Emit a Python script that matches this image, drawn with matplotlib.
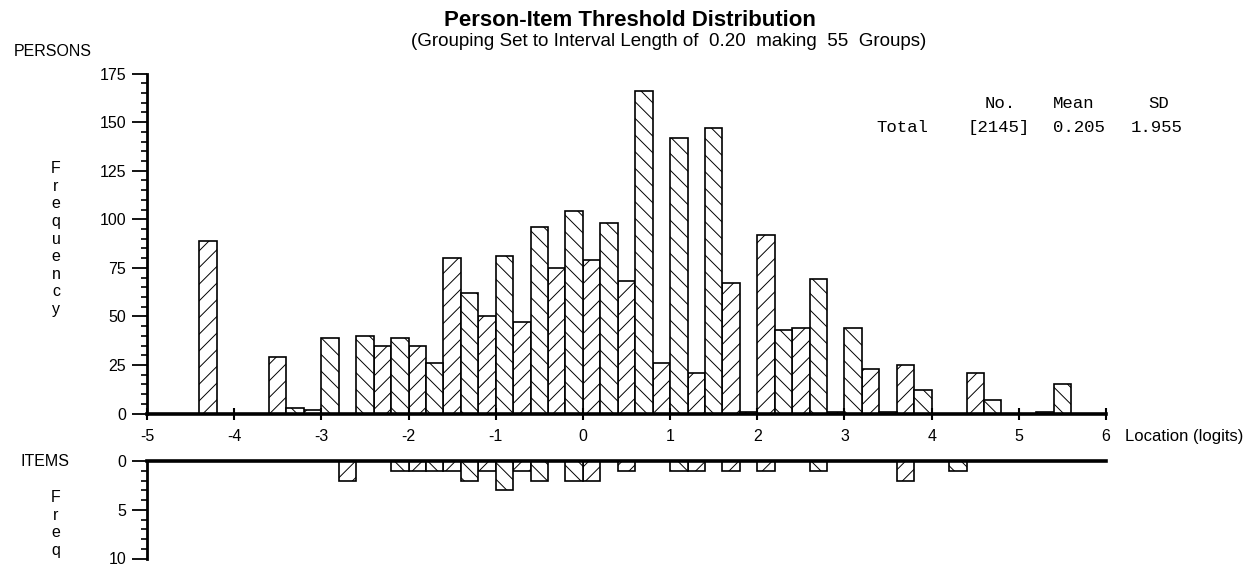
import matplotlib.pyplot as plt
import numpy as np

# 55 groups of 0.20 logits from -5 to 6
bin_left = np.round(np.arange(-5.0, 6.0, 0.2), 1)
persons = [0, 0, 0, 89, 0, 0, 0, 29, 3, 2,
           39, 0, 40, 35, 39, 35, 26, 80, 62, 50,
           81, 47, 96, 75, 104, 79, 98, 68, 166, 26,
           142, 21, 147, 67, 1, 92, 43, 44, 69, 1,
           44, 23, 1, 25, 12, 0, 0, 21, 7, 0,
           0, 1, 15, 0, 0]
items = [0, 0, 0, 0, 0, 0, 0, 0, 0, 0,
         0, 2, 0, 0, 1, 1, 1, 1, 2, 1,
         3, 1, 2, 0, 2, 2, 0, 1, 0, 0,
         1, 1, 0, 1, 0, 1, 0, 0, 1, 0,
         0, 0, 0, 2, 0, 0, 1, 0, 0, 0,
         0, 0, 0, 0, 0]
x_ticks = list(range(-5, 7))
stat_heads = ["No.", "Mean", "SD"]
stat_vals = ["[2145]", "0.205", "1.955"]

W, H = 1260, 569
plt.rcParams['font.family'] = ['Liberation Sans', 'DejaVu Sans']
plt.rcParams['axes.unicode_minus'] = False
plt.rcParams['hatch.linewidth'] = 0.7
fig = plt.figure(figsize=(W / 100, H / 100), dpi=100)


def fx(px):
    return px / W


def fy(py):
    return 1 - py / H


ax = fig.add_axes([fx(147), fy(413.5), fx(1106 - 147), (413.5 - 73.5) / H])
ax2 = fig.add_axes([fx(147), fy(558.5), fx(1106 - 147), (558.5 - 461) / H])

idx = np.arange(len(bin_left))
for a, vals in ((ax, persons), (ax2, items)):
    vals = np.array(vals)
    for parity, hatch in ((1, "//"), (0, "\\\\")):
        m = (idx % 2 == parity) & (vals > 0)
        a.bar(bin_left[m], vals[m], width=0.2, align="edge", color="white",
              edgecolor="black", linewidth=1.2, hatch=hatch)

fs = 11.5
ax.set_xlim(-5, 6)
ax.set_ylim(0, 175)
ax.spines[['top', 'right']].set_visible(False)
ax.spines['left'].set_linewidth(2)
ax.spines['bottom'].set_linewidth(2.6)
ax.set_xticks(x_ticks)
ax.set_yticks(np.arange(0, 176, 25))
ax.set_yticks(np.arange(0, 176, 5), minor=True)
ax.tick_params(axis='x', direction='inout', length=8, width=1.5, pad=7, labelsize=fs)
ax.tick_params(axis='y', which='major', direction='out', length=11, width=1.3, pad=4, labelsize=fs)
ax.tick_params(axis='y', which='minor', direction='out', length=4.5, width=1.2)

ax2.set_xlim(-5, 6)
ax2.set_ylim(10, 0)
ax2.spines[['bottom', 'right']].set_visible(False)
ax2.spines['left'].set_linewidth(2)
ax2.spines['top'].set_linewidth(2.6)
ax2.set_xticks([])
ax2.set_yticks([0, 5, 10])
ax2.set_yticks(np.arange(0, 11, 1), minor=True)
ax2.tick_params(axis='y', which='major', direction='out', length=11, width=1.3, pad=4, labelsize=fs)
ax2.tick_params(axis='y', which='minor', direction='out', length=4.5, width=1.2)
for a in (ax, ax2):
    a.set_facecolor('none')

fig.text(fx(630), fy(20), "Person-Item Threshold Distribution", ha='center', va='center',
         fontsize=16, fontweight='bold')
fig.text(fx(669), fy(41), "(Grouping Set to Interval Length of  0.20  making  55  Groups)",
         ha='center', va='center', fontsize=13.5)
fig.text(fx(14), fy(51), "PERSONS", ha='left', va='center', fontsize=fs)
fig.text(fx(56), fy(239), "\n".join("Frequency"), ha='center', va='center',
         fontsize=fs, linespacing=1.22)
fig.text(fx(20), fy(461), "ITEMS", ha='left', va='center', fontsize=fs)
fig.text(fx(56), fy(524), "\n".join("Freq"), ha='center', va='center',
         fontsize=fs, linespacing=1.22)
fig.text(fx(1125), fy(436), "Location (logits)", ha='left', va='center', fontsize=12)

for txt, px in zip(stat_heads, [985, 1053, 1148]):
    fig.text(fx(px), fy(104), txt, ha='left', va='center', family='Liberation Mono', fontsize=12.5)
fig.text(fx(876), fy(127), "Total", ha='left', va='center', family='Liberation Mono', fontsize=12.5)
for txt, px in zip(stat_vals, [967, 1053, 1131]):
    fig.text(fx(px), fy(127), txt, ha='left', va='center', family='Liberation Mono', fontsize=12.5)

fig.savefig("out.png", dpi=100)
